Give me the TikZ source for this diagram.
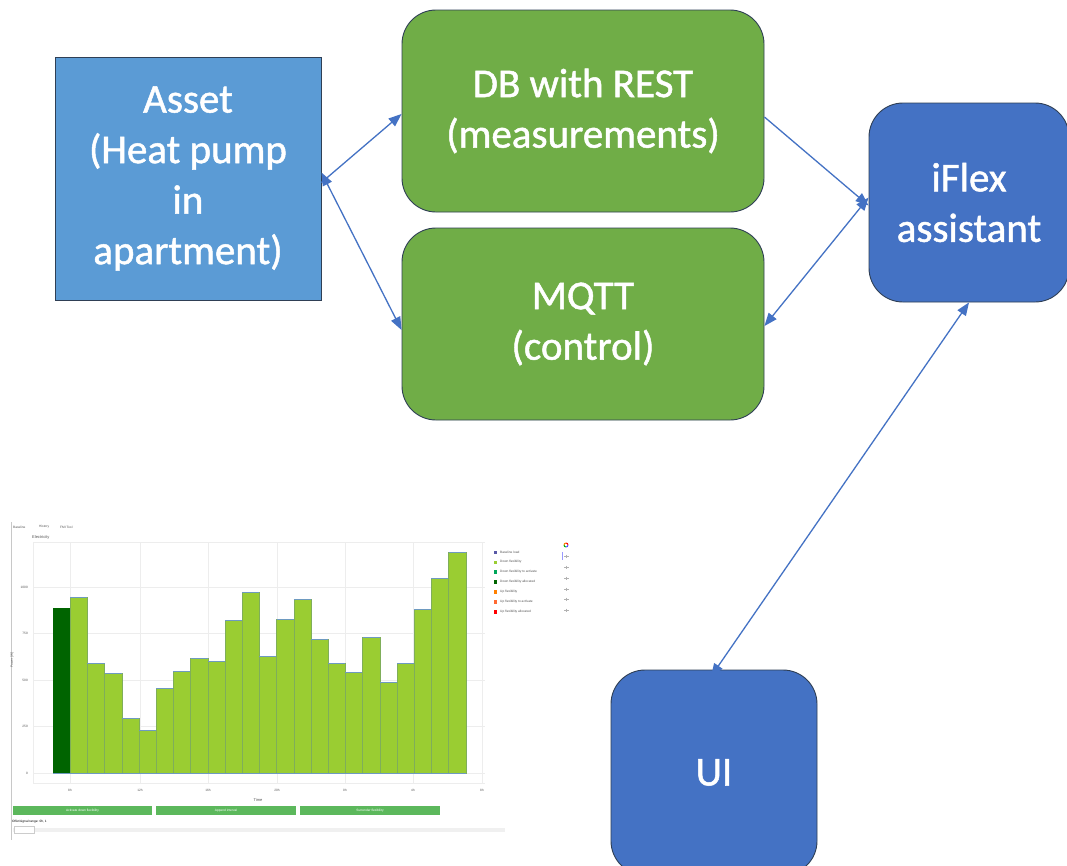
\documentclass[tikz,border=0pt]{standalone}
\usepackage{fontspec}
\setmainfont{Carlito}
\newfontfamily\boxfont{Carlito}[FakeBold=1.2]
\newfontfamily\plotfont{Liberation Sans}
\usetikzlibrary{arrows.meta,calc}

\definecolor{assetblue}{HTML}{5B9BD5}
\definecolor{nodeblue}{HTML}{4472C4}
\definecolor{nodegreen}{HTML}{70AD47}
\definecolor{edgedark}{HTML}{2F3F55}
\definecolor{barlight}{HTML}{9ACD32}
\definecolor{bardark}{HTML}{006400}
\definecolor{baredge}{HTML}{7FAE5A}
\definecolor{bartop}{HTML}{6E9AC0}
\definecolor{btngreen}{HTML}{5CB85C}
\definecolor{gridgray}{HTML}{EDEDED}
\definecolor{axisgray}{HTML}{C8C8C8}
\definecolor{plottext}{HTML}{555555}

\tikzset{
  block/.style={draw=edgedark, line width=0.9pt, text=white, align=center,
    font=\boxfont\fontsize{41}{50.5}\selectfont, inner sep=0pt},
  roundblock/.style={block, rounded corners=34pt},
  link/.style={draw=nodeblue, line width=1.3pt, -{Triangle[length=13pt,width=10pt]}},
  bilink/.style={draw=nodeblue, line width=1.3pt,
    {Triangle[length=13pt,width=10pt]}-{Triangle[length=13pt,width=10pt]}},
  tiny/.style={font=\plotfont\fontsize{3.2}{3.8}\selectfont, text=plottext, inner sep=0pt},
  legendbox/.style={minimum size=4.5pt, inner sep=0pt, draw=white, line width=0.3pt},
  button/.style={fill=btngreen, draw=none},
}

\begin{document}
\begin{tikzpicture}[x=1pt,y=-1pt]
\clip (0,0) rectangle (1067,865);
\fill[white] (0,0) rectangle (1067,865);

% ---- main blocks ----
\node[block, fill=assetblue, minimum width=266pt, minimum height=243pt]
  (asset) at (188,178.5) {Asset\\(Heat pump\\in\\apartment)};
\node[roundblock, fill=nodegreen, minimum width=362pt, minimum height=202pt]
  (db) at (583,111) {DB with REST\\(measurements)};
\node[roundblock, fill=nodegreen, minimum width=362pt, minimum height=192pt]
  (mqtt) at (583,324) {MQTT\\(control)};
\node[roundblock, fill=nodeblue, minimum width=200pt, minimum height=199pt]
  (iflex) at (969,202.5) {iFlex\\assistant};
\node[roundblock, fill=nodeblue, minimum width=206pt, minimum height=205pt]
  (ui) at (714,772.5) {UI};

% ---- connectors ----
\draw[link] ([yshift=-4pt]asset.east) -- ([yshift=-3pt]db.west);
\draw[bilink] ([yshift=6pt]asset.east) -- ([yshift=-6pt]mqtt.west);
\draw[link] ([yshift=-6pt]db.east) -- ([yshift=-3pt]iflex.west);
\draw[bilink] ([yshift=5pt]iflex.west) -- ([yshift=-2pt]mqtt.east);
\draw[bilink] (iflex.south) -- ([xshift=-3pt,yshift=-7pt]ui.north);

% ---- dashboard chart ----
% left edge of the panel
\draw[axisgray, line width=0.6pt] (11,522) -- (11,840);
% tabs and title
\node[tiny, anchor=west] (tab1) at (13,527) {Baseline};
\node[tiny, anchor=west] (tab2) at (39,527) {History};
\node[tiny, anchor=west] (tab3) at (60,527) {FMI Tool};
\node[tiny, anchor=west, font=\plotfont\fontsize{4}{5}\selectfont] (ttl) at (32,537) {Electricity};

% plot area grid
\draw[gridgray, line width=0.5pt] (33,542) -- (485,542);
\foreach \gy in {587,633.5,680,726.5,773}
  \draw[gridgray, line width=0.5pt] (33,\gy) -- (485,\gy);
\foreach \gx in {70,140,208,277,345,413,482}
  \draw[gridgray, line width=0.5pt] (\gx,542) -- (\gx,783);
\draw[gridgray, line width=0.5pt] (33,542) -- (33,783) -- (485,783);

% y tick labels
\foreach \gy/\lab in {587/1000,633.5/750,680/500,726.5/250,773/0}
  \node[tiny, anchor=east] at (28,\gy) {\lab};
\node[tiny, rotate=90] (ylab) at (12,660) {Power [W]};

% x tick labels
\foreach \gx/\lab in {70/8h,140/12h,208/16h,277/20h,345/0h,413/4h,482/8h}
  \node[tiny] at (\gx,790) {\lab};
\node[tiny, font=\plotfont\fontsize{4}{5}\selectfont] (xlab) at (258,800) {Time};

% bars
\foreach \top [count=\i from 0] in
  {608,597,663,673,718,730,688,671,658,661,620,592,656,619,599,639,663,672,637,682,663,609,578,552}{
  \pgfmathsetmacro{\xl}{53+17.2*\i}
  \pgfmathsetmacro{\xr}{53+17.2*(\i+1)}
  \ifnum\i=0
    \filldraw[fill=bardark, draw=bardark, line width=0.4pt] (\xl,\top) rectangle (\xr,773);
  \else
    \filldraw[fill=barlight, draw=baredge, line width=0.6pt] (\xl,\top) rectangle (\xr,773);
    \draw[bartop, line width=0.6pt] (\xl,\top) -- (\xr,\top);
  \fi
}
\draw[bartop, line width=0.5pt] (53,773) -- (466,773);

% legend
\foreach \c/\lab [count=\k from 0] in {
  {gray!70!blue}/Baseline load,
  {barlight}/Down flexibility,
  {teal!70!green}/Down flexibility to activate,
  {bardark}/Down flexibility allocated,
  {orange}/Up flexibility,
  {red!45!orange!80!white}/Up flexibility to activate,
  {red}/Up flexibility allocated}{
  \node[legendbox, fill=\c] at (495,552+9.9*\k) {};
  \node[tiny, anchor=west] at (500,552+9.9*\k) {\lab};
}

% mode bar icons
\foreach \a/\c in {0/red,90/orange,180/green!70!black,270/blue!70}
  \draw[\c, line width=1pt] (566,545) ++(\a:2pt) arc[start angle=\a, delta angle=90, radius=2pt];
\foreach \iy in {556,567,578,589,599,610}
  \draw[gray!60, line width=0.5pt] (564,\iy) -- (569,\iy) (566.5,\iy-1.5) -- (566.5,\iy+1.5);
\draw[blue!40, line width=0.6pt] (562,552) -- (562,560);

% buttons
\fill[button] (13,806) rectangle (152,815);
\fill[button] (156,806) rectangle (296,815);
\fill[button] (300,806) rectangle (440,815);
\node[tiny, text=white] (b1) at (82.5,810.5) {Activate down flexibility};
\node[tiny, text=white] (b2) at (226,810.5) {Append interval};
\node[tiny, text=white] (b3) at (370,810.5) {Surrender flexibility};

% range slider
\node[tiny, anchor=west, text=black] (rng) at (12,822) {Offer/signal range: 0h, 1};
\fill[gray!12] (13,828) rectangle (505,832);
\draw[gray!40, line width=0.4pt, fill=white] (14,826.5) rectangle (34,833);
\end{tikzpicture}
\end{document}
